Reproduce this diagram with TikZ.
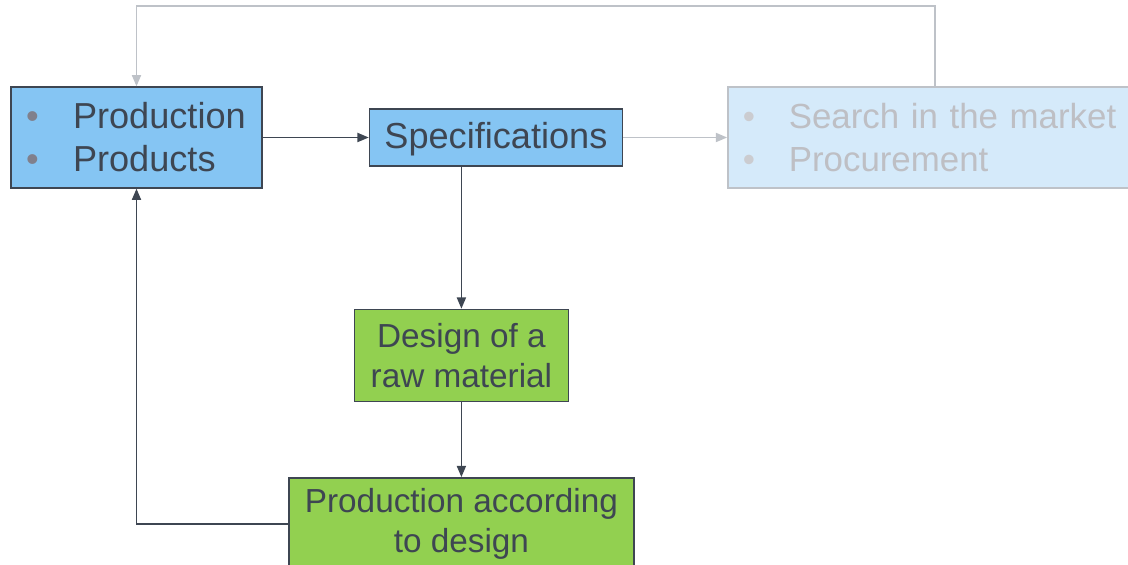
\documentclass[tikz,border=0pt]{standalone}
\usepackage{fontspec}
\setmainfont{Liberation Sans}
\usepackage{tikz}
\usetikzlibrary{arrows.meta, positioning}
\definecolor{darkline}{RGB}{62,70,82}
\definecolor{boxblue}{RGB}{133,197,243}
\definecolor{boxgreen}{RGB}{146,208,80}
\definecolor{paleblue}{RGB}{213,234,250}
\definecolor{paleline}{RGB}{190,194,200}
\definecolor{paletext}{RGB}{190,191,196}
\definecolor{bulletgray}{RGB}{128,128,140}
\newcommand{\bitem}[3][1.175cm]{\mbox{\makebox[#1][l]{\textcolor{#2}{\textbullet}}#3}}
\tikzstyle{line} = [draw, -{Triangle[length=8pt,width=6.5pt]}, line width=1pt]
\tikzstyle{block} = [rectangle, draw=darkline, line width=1pt, fill=boxblue,
  text=darkline, font=\fontsize{25.7pt}{30.6pt}\selectfont]
\tikzstyle{listblock} = [block, align=left, inner xsep=0.375cm,
  minimum height=2.525cm]
\tikzstyle{gblock} = [rectangle, draw=darkline, line width=1pt, fill=boxgreen,
  text=darkline, align=center, minimum height=2.3cm,
  font=\fontsize{23.7pt}{28.4pt}\selectfont]
\tikzstyle{paleblock} = [listblock, draw=paleline, fill=paleblue, text=paletext,
  font=\fontsize{24.8pt}{30.6pt}\selectfont]

\begin{document}
\begin{tikzpicture}
    \useasboundingbox (0,0) rectangle (28.2,-14.125);
    \clip (0,0) rectangle (28.2,-14.125);

    \node [listblock, text width=5.525cm] at (3.4125,-3.4375) (prod)
      {\bitem{bulletgray}{Production}\\\bitem{bulletgray}{Products}};
    \node [block, right=2.65cm of prod, minimum width=6.325cm,
      minimum height=1.425cm, text depth=0.12cm] (spec) {Specifications};
    \node [paleblock, right=2.6cm of spec, text width=9.6cm] (search)
      {\bitem[1.15cm]{paletext!80}{Search in the market}\\\bitem[1.15cm]{paletext!80}{Procurement}};
    \node [gblock, below=3.55cm of spec, xshift=-0.8625cm,
      minimum width=5.35cm] (design) {Design of a\\raw material};
    \node [gblock, below=1.875cm of design, minimum width=8.625cm] (prodacc)
      {Production according\\to design};

    \coordinate (top) at (15.6,-0.15);

    \path [line, color=darkline] (prod) -- (spec);
    \path [line, color=paleline] (spec) -- (search);
    \path [line, color=darkline] (spec.south -| design.north) -- (design);
    \path [line, color=darkline] (design) -- (prodacc);
    \path [line, color=darkline] (prodacc.west) -| (prod.south);
    \path [line, color=paleline] (search.north) |- (top) -| (prod.north);

  \end{tikzpicture}
\end{document}
